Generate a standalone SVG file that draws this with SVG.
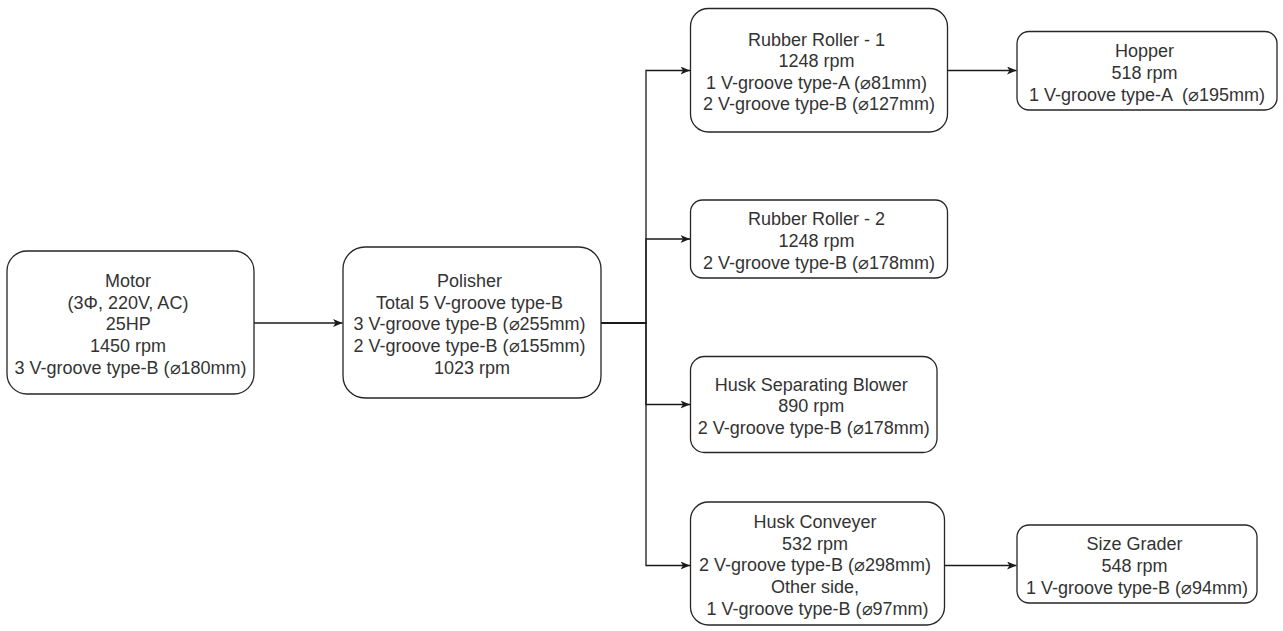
<svg xmlns="http://www.w3.org/2000/svg" width="1283" height="631" viewBox="0 0 1283 631">
  <style>
    .box { fill: #ffffff; stroke: #262626; stroke-width: 1.3; }
    .lbl { font-family: "Liberation Sans", Arial, sans-serif; font-size: 18px; fill: #333333; text-anchor: middle; }
    .edge { fill: none; stroke: #1a1a1a; stroke-width: 1.3; }
  </style>
  <defs>
    <marker id="arrow" markerUnits="userSpaceOnUse" markerWidth="10" markerHeight="8" refX="9.5" refY="4" orient="auto">
      <path d="M0,0 L9.5,4 L0,8 L2.5,4 Z" fill="#1a1a1a"/>
    </marker>
  </defs>
  <rect width="1283" height="631" fill="#ffffff"/>

  <g id="connectors">
    <path class="edge" d="M254 323 H342.5" marker-end="url(#arrow)"/>
    <path class="edge" d="M601 323 H646 V70.5 H690" marker-end="url(#arrow)"/>
    <path class="edge" d="M601 323 H646 V239 H690" marker-end="url(#arrow)"/>
    <path class="edge" d="M601 323 H646 V404.5 H690" marker-end="url(#arrow)"/>
    <path class="edge" d="M601 323 H646 V565.5 H690" marker-end="url(#arrow)"/>
    <path class="edge" d="M948 70.5 H1016.5" marker-end="url(#arrow)"/>
    <path class="edge" d="M945 565.5 H1016.5" marker-end="url(#arrow)"/>
  </g>

  <g id="motor">
    <rect class="box" x="7" y="251" width="247" height="143" rx="20" ry="20"/>
    <text class="lbl" x="130.5" y="287.1">
      <tspan x="130.5">Motor</tspan>
      <tspan x="130.5" dy="21.6">(3Φ, 220V, AC)</tspan>
      <tspan x="130.5" dy="21.6">25HP</tspan>
      <tspan x="130.5" dy="21.6">1450 rpm</tspan>
      <tspan x="130.5" dy="21.6">3 V-groove type-B (⌀180mm)</tspan>
    </text>
  </g>

  <g id="polisher">
    <rect class="box" x="343" y="247" width="258" height="151" rx="22" ry="22"/>
    <text class="lbl" x="472" y="287.1">
      <tspan x="472">Polisher</tspan>
      <tspan x="472" dy="21.6">Total 5 V-groove type-B</tspan>
      <tspan x="472" dy="21.6">3 V-groove type-B (⌀255mm)</tspan>
      <tspan x="472" dy="21.6">2 V-groove type-B (⌀155mm)</tspan>
      <tspan x="472" dy="21.6">1023 rpm</tspan>
    </text>
  </g>

  <g id="rubber-roller-1">
    <rect class="box" x="690.5" y="8.5" width="257" height="123.5" rx="18" ry="18"/>
    <text class="lbl" x="819" y="45.5">
      <tspan x="819">Rubber Roller - 1</tspan>
      <tspan x="819" dy="21.6">1248 rpm</tspan>
      <tspan x="819" dy="21.6">1 V-groove type-A (⌀81mm)</tspan>
      <tspan x="819" dy="21.6">2 V-groove type-B (⌀127mm)</tspan>
    </text>
  </g>

  <g id="hopper">
    <rect class="box" x="1017" y="31.5" width="260" height="78.5" rx="12" ry="12"/>
    <text class="lbl" x="1147" y="57.3">
      <tspan x="1147">Hopper</tspan>
      <tspan x="1147" dy="21.6">518 rpm</tspan>
      <tspan x="1147" dy="21.6">1 V-groove type-A &#160;(⌀195mm)</tspan>
    </text>
  </g>

  <g id="rubber-roller-2">
    <rect class="box" x="690.5" y="200" width="257" height="78" rx="12" ry="12"/>
    <text class="lbl" x="819" y="225.3">
      <tspan x="819">Rubber Roller - 2</tspan>
      <tspan x="819" dy="21.6">1248 rpm</tspan>
      <tspan x="819" dy="21.6">2 V-groove type-B (⌀178mm)</tspan>
    </text>
  </g>

  <g id="husk-separating-blower">
    <rect class="box" x="690.5" y="356.5" width="246.5" height="96" rx="14" ry="14"/>
    <text class="lbl" x="813.75" y="390.8">
      <tspan x="813.75">Husk Separating Blower</tspan>
      <tspan x="813.75" dy="21.6">890 rpm</tspan>
      <tspan x="813.75" dy="21.6">2 V-groove type-B (⌀178mm)</tspan>
    </text>
  </g>

  <g id="husk-conveyer">
    <rect class="box" x="690.5" y="502" width="254" height="123" rx="18" ry="18"/>
    <text class="lbl" x="817.5" y="528.1">
      <tspan x="817.5">Husk Conveyer</tspan>
      <tspan x="817.5" dy="21.6">532 rpm</tspan>
      <tspan x="817.5" dy="21.6">2 V-groove type-B (⌀298mm)</tspan>
      <tspan x="817.5" dy="21.6">Other side,</tspan>
      <tspan x="817.5" dy="21.6">1 V-groove type-B (⌀97mm)</tspan>
    </text>
  </g>

  <g id="size-grader">
    <rect class="box" x="1017" y="525" width="240" height="78" rx="12" ry="12"/>
    <text class="lbl" x="1137" y="550.3">
      <tspan x="1137">Size Grader</tspan>
      <tspan x="1137" dy="21.6">548 rpm</tspan>
      <tspan x="1137" dy="21.6">1 V-groove type-B (⌀94mm)</tspan>
    </text>
  </g>
</svg>
